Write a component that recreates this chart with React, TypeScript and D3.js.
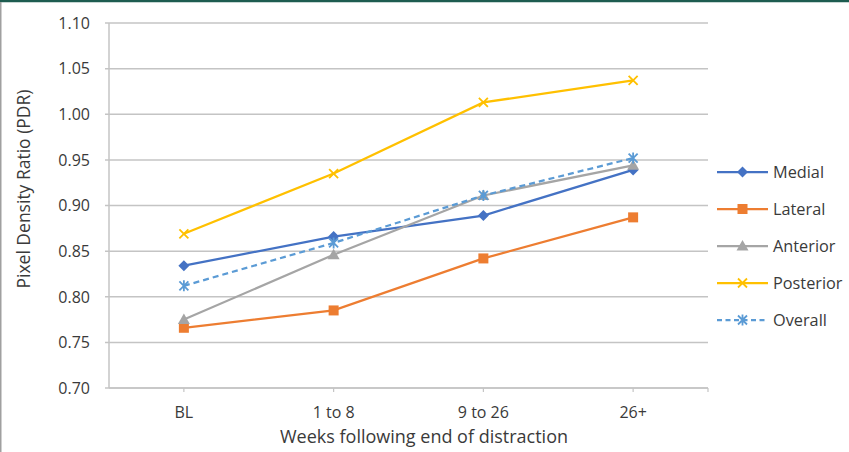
import React from "react";
import * as d3 from "d3";

const categories = ["BL", "1 to 8", "9 to 26", "26+"];
const seriesNames = ["Medial", "Lateral", "Anterior", "Posterior", "Overall"];
const medial = [0.834, 0.866, 0.889, 0.939];
const lateral = [0.766, 0.785, 0.842, 0.887];
const anterior = [0.775, 0.846, 0.911, 0.944];
const posterior = [0.869, 0.935, 1.013, 1.037];
const overall = [0.812, 0.859, 0.911, 0.952];
const yTicks = [0.7, 0.75, 0.8, 0.85, 0.9, 0.95, 1.0, 1.05, 1.1];
const colors = ["#4472C4", "#ED7D31", "#A5A5A5", "#FFC000", "#5B9BD5"];
const markers = ["diamond", "square", "triangle", "x", "asterisk"];

const W = 849, H = 452;
const left = 109, right = 708, top = 23, bottom = 388;
const font = "'Open Sans', 'Liberation Sans', sans-serif";
const textColor = "#3a3a3a";

function Marker({ type, x, y, color }: { type: string; x: number; y: number; color: string }) {
  if (type === "diamond") {
    const s = 5.5;
    return <path d={`M${x},${y - s}L${x + s},${y}L${x},${y + s}L${x - s},${y}Z`} fill={color} />;
  }
  if (type === "square") {
    const s = 5;
    return <rect x={x - s} y={y - s} width={2 * s} height={2 * s} fill={color} />;
  }
  if (type === "triangle") {
    const s = 6;
    return <path d={`M${x},${y - s}L${x + s},${y + s * 0.75}L${x - s},${y + s * 0.75}Z`} fill={color} />;
  }
  if (type === "x") {
    const s = 4.5;
    return (
      <path d={`M${x - s},${y - s}L${x + s},${y + s}M${x + s},${y - s}L${x - s},${y + s}`} stroke={color} strokeWidth={1.8} />
    );
  }
  const s = 4.5;
  return (
    <path
      d={`M${x - s},${y - s}L${x + s},${y + s}M${x + s},${y - s}L${x - s},${y + s}M${x},${y - s - 1}L${x},${y + s + 1}`}
      stroke={color}
      strokeWidth={1.8}
    />
  );
}

export default function App() {
  const data = [medial, lateral, anterior, posterior, overall];
  const x = d3.scaleBand<string>().domain(categories).range([left, right]);
  const y = d3.scaleLinear().domain([0.7, 1.1]).range([bottom, top]);
  const cx = (c: string) => (x(c) as number) + x.bandwidth() / 2;
  const line = d3
    .line<number>()
    .x((_, i) => cx(categories[i]))
    .y((v) => y(v));

  const legendX = 717;
  const legendY0 = 172;
  const legendStep = 37;

  return (
    <svg
      width={W}
      height={H}
      style={{ position: "absolute", left: 0, top: 0, background: "#fff" }}
      fontFamily={font}
    >
      <rect x={0} y={0} width={W} height={H} fill="#fff" />
      <line x1={0} x2={W} y1={1} y2={1} stroke="#1d5c50" strokeWidth={2.5} />
      <line x1={0.75} x2={0.75} y1={2} y2={H} stroke="#a0a0a0" strokeWidth={1.5} />

      {yTicks.map((t) => (
        <g key={t}>
          <line x1={left - 4} x2={right} y1={y(t)} y2={y(t)} stroke="#c4c4c4" strokeWidth={1.5} />
          <text x={90} y={y(t)} dy="0.36em" textAnchor="end" fontSize={16} fill={textColor}>
            {t.toFixed(2)}
          </text>
        </g>
      ))}
      <line x1={left} x2={left} y1={top} y2={bottom} stroke="#c4c4c4" strokeWidth={1.5} />
      <line x1={left} x2={right} y1={bottom} y2={bottom} stroke="#c4c4c4" strokeWidth={1.5} />
      {categories.map((c) => (
        <line key={"tk" + c} x1={cx(c)} x2={cx(c)} y1={bottom} y2={bottom + 4} stroke="#c4c4c4" strokeWidth={1.2} />
      ))}
      <line x1={right} x2={right} y1={bottom} y2={bottom + 4} stroke="#c4c4c4" strokeWidth={1.2} />

      {categories.map((c) => (
        <text key={c} x={cx(c)} y={418} textAnchor="middle" fontSize={16} fill={textColor}>
          {c}
        </text>
      ))}
      <text x={424} y={443} textAnchor="middle" fontSize={18} fill={textColor}>
        Weeks following end of distraction
      </text>
      <text
        transform={`translate(30,189) rotate(-90)`}
        textAnchor="middle"
        fontSize={17.5}
        fill={textColor}
      >
        Pixel Density Ratio (PDR)
      </text>

      {data.map((vals, si) => (
        <g key={seriesNames[si]}>
          <path
            d={line(vals) || ""}
            fill="none"
            stroke={colors[si]}
            strokeWidth={2.25}
            strokeDasharray={si === 4 ? "6,4" : undefined}
          />
          {vals.map((v, i) => (
            <Marker key={i} type={markers[si]} x={cx(categories[i])} y={y(v)} color={colors[si]} />
          ))}
        </g>
      ))}

      {seriesNames.map((n, si) => {
        const ly = legendY0 + si * legendStep;
        return (
          <g key={"lg" + n}>
            <line
              x1={legendX}
              x2={legendX + 51}
              y1={ly}
              y2={ly}
              stroke={colors[si]}
              strokeWidth={2.25}
              strokeDasharray={si === 4 ? "5,3.5" : undefined}
            />
            <Marker type={markers[si]} x={legendX + 25.5} y={ly} color={colors[si]} />
            <text x={legendX + 56} y={ly} dy="0.36em" fontSize={16.3} fill={textColor}>
              {n}
            </text>
          </g>
        );
      })}
    </svg>
  );
}
